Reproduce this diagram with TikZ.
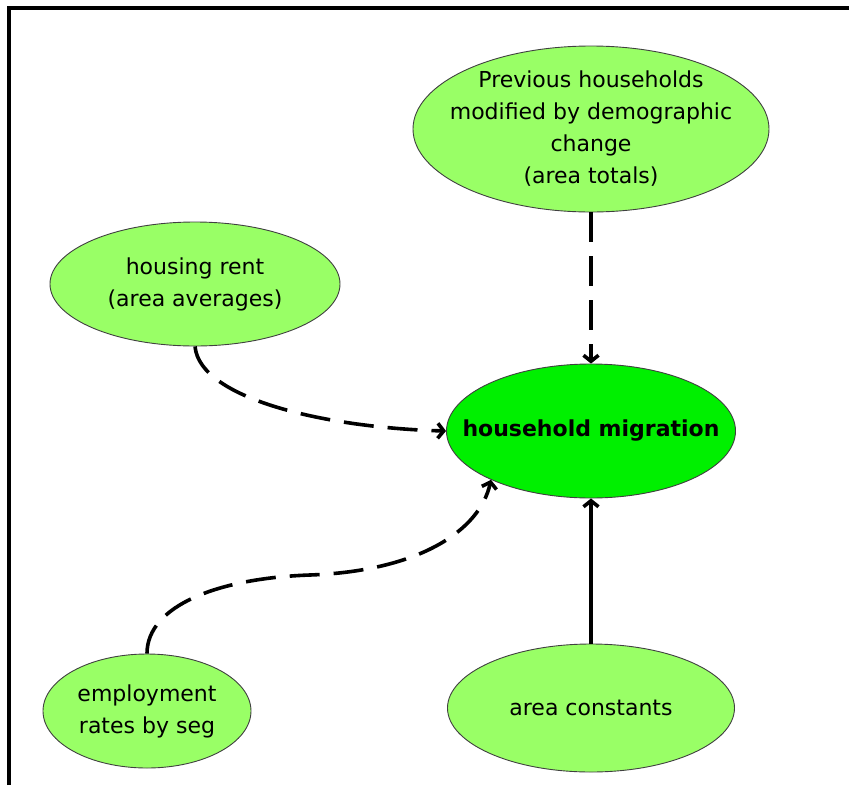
\documentclass[tikz,border=0pt]{standalone}
\usepackage{fontspec}
\setmainfont{DejaVu Sans}
\usetikzlibrary{shapes.geometric,arrows.meta}
\definecolor{leafgreen}{HTML}{99FF66}
\definecolor{brightgreen}{HTML}{00F000}
\tikzset{
  factor/.style={ellipse, draw=black!75, line width=0.9pt, fill=leafgreen, inner sep=0pt},
  txt/.style={align=center, font=\fontsize{22}{32}\selectfont, inner sep=0pt},
  link/.style={line width=3.6pt, -{Straight Barb[length=6pt,width=15pt]}},
  dlink/.style={link, dash pattern=on 30pt off 14pt}
}
\begin{document}
\begin{tikzpicture}[x=1pt,y=-1pt]
                \useasboundingbox (0,0) rectangle (849,785);
                \draw[line width=4pt] (9,785) -- (9,8) -- (849,8);

                \node[factor, minimum width=356pt, minimum height=166pt,
                      label={[txt]center:Previous households\\modified by demographic\\change\\(area totals)}] (prev) at (591,129) {};
                \node[factor, minimum width=290pt, minimum height=124pt,
                      label={[txt]center:housing rent\\(area averages)}] (rent) at (195,284) {};
                \node[factor, fill=brightgreen, minimum width=289pt, minimum height=134pt,
                      label={[txt]center:\textbf{household migration}}] (mig) at (591,431) {};
                \node[factor, minimum width=208pt, minimum height=114pt,
                      label={[txt]center:employment\\rates by seg}] (emp) at (147,711) {};
                \node[factor, minimum width=287pt, minimum height=128pt,
                      label={[txt]center:area constants}] (const) at (591,708) {};

                \draw[dlink] (prev) -- (mig);
                \draw[dlink] (rent.south) .. controls (200,400) and (330,428) .. (mig.west);
                \draw[dlink] (emp.north) .. controls (147,605) and (220,578) .. (310,575)
                             .. controls (420,571) and (480,530) .. (mig.206);
                \draw[link] (const) -- (mig);
            \end{tikzpicture}
\end{document}
